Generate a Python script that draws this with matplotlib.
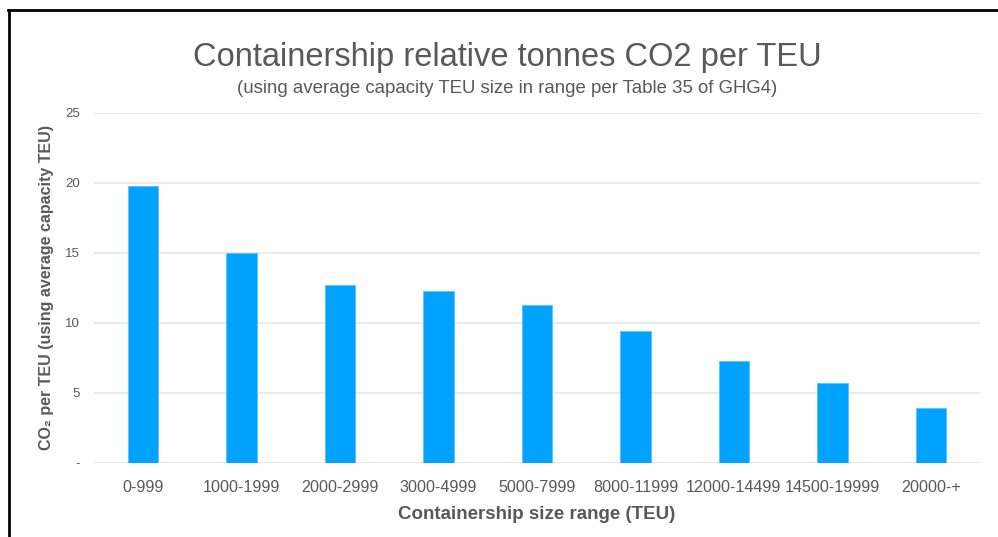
import numpy as np
import matplotlib
matplotlib.use('Agg')
import matplotlib.pyplot as plt
from matplotlib.lines import Line2D

plt.rcParams['font.family'] = ['Liberation Sans', 'DejaVu Sans']

# ---------------- data ----------------
size_ranges = ['0-999', '1000-1999', '2000-2999', '3000-4999', '5000-7999',
               '8000-11999', '12000-14499', '14500-19999', '20000-+']
co2_per_teu = [19.8, 15.0, 12.7, 12.3, 11.3, 9.4, 7.3, 5.7, 3.9]
y_ticks = [0, 5, 10, 15, 20, 25]
y_tick_labels = ['-', '5', '10', '15', '20', '25']

text_col = '#595959'
bar_col = '#00A2FF'

fig = plt.figure(figsize=(9.98, 5.37), dpi=100)
ax = fig.add_axes([0.0942, 0.1378, 0.8878, 0.6518])

x = np.arange(len(size_ranges))
ax.bar(x, co2_per_teu, width=0.31, color=bar_col, edgecolor='#5cc4ff',
       linewidth=0.6, zorder=3)

ax.set_xlim(-0.5, len(size_ranges) - 0.5)
ax.set_ylim(0, 25)
ax.set_yticks(y_ticks)
ax.set_yticklabels(y_tick_labels)
ax.set_xticks(x)
ax.set_xticklabels(size_ranges)

# light horizontal grid, no spines
ax.grid(axis='y', color='#e6e6e6', linewidth=1.2, zorder=0)
for s in ax.spines.values():
    s.set_visible(False)
ax.tick_params(axis='both', length=0)
ax.tick_params(axis='x', labelsize=11.6, labelcolor=text_col, pad=12)
ax.tick_params(axis='y', labelsize=9.5, labelcolor=text_col, pad=10)

ax.set_xlabel('Containership size range (TEU)', fontsize=13.5, fontweight='bold',
              color=text_col, labelpad=8)
ax.set_ylabel('CO₂ per TEU (using average capacity TEU)', fontsize=11.5,
              fontweight='bold', color=text_col, labelpad=8)

fig.text(0.508, 0.893, 'Containership relative tonnes CO2 per TEU',
         ha='center', va='center', fontsize=23.5, color=text_col)
fig.text(0.508, 0.836, '(using average capacity TEU size in range per Table 35 of GHG4)',
         ha='center', va='center', fontsize=13.4, color=text_col)

# the screenshot frame on top and left
fig.add_artist(Line2D([0.008, 1.0], [0.981, 0.981], color='black', lw=2))
fig.add_artist(Line2D([0.009, 0.009], [0.0, 0.981], color='black', lw=2))

fig.savefig('out.png', dpi=100)
